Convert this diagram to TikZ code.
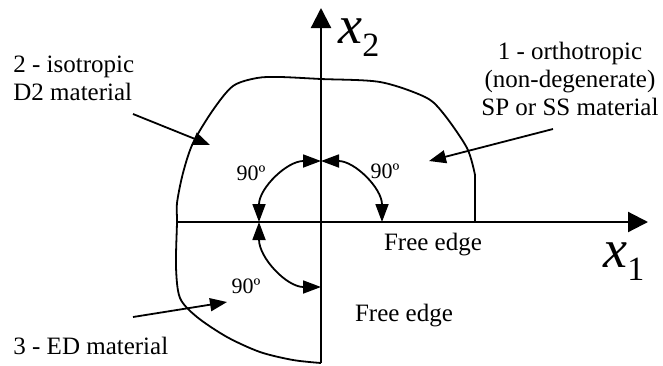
\documentclass[tikz,border=0pt]{standalone}
\usepackage{fontspec}
\setmainfont{Liberation Serif}
\usetikzlibrary{arrows.meta}
\tikzset{
  axis/.style={-{Triangle[length=10pt, width=10pt]}, line width=1.1pt},
  boundary/.style={line width=0.9pt, line join=round},
  pointer/.style={-{Triangle[length=8.5pt, width=6.5pt]}, line width=0.9pt},
  angarrow/.style={{Triangle[length=9pt, width=6.5pt]}-{Triangle[length=9pt, width=6.5pt]},
    line width=0.9pt},
  matlabel/.style={font=\fontsize{12.5}{14}\selectfont, inner sep=0pt},
  anglabel/.style={font=\fontsize{11}{13}\selectfont, inner sep=0pt},
  axlabel/.style={inner sep=0pt}
}
\newcommand{\axislabel}[2]{{\fontsize{27}{30}\selectfont\itshape #1}%
  \raisebox{-6.5pt}{\fontsize{17}{17}\selectfont #2}}

\begin{document}
\begin{tikzpicture}[x=0.5pt, y=-0.5pt]
  \useasboundingbox (0,0) rectangle (663,365);
  \coordinate (O) at (321,222);
  \coordinate (x1start) at (177,222);
  \coordinate (x1tip) at (648,222);
  \coordinate (x2start) at (321,363);
  \coordinate (x2tip) at (321,8);

  \draw[boundary] (475,222) -- (475,175) -- plot[smooth, tension=0.5] coordinates {
    (475,175) (467,148) (443,113) (425,97) (380,82) (321,79) (280,77)
    (257,78) (233,86) (213,110) (193,143) (183,173) (177,203) (177,222)
    (176,267) (180,298) (197,317) (227,337) (260,352) (293,360) (321,363)};

  \draw[axis] (x1start) -- (x1tip);
  \draw[axis] (x2start) -- (x2tip);

  \node[axlabel, anchor=base west] (x2lab) at (338,43) {\axislabel{x}{2}};
  \node[axlabel, anchor=base west] (x1lab) at (603,267) {\axislabel{x}{1}};

  \coordinate (a90top) at (321,161);
  \coordinate (a90left) at (259,222);
  \coordinate (a90right) at (382,222);
  \coordinate (a90bot) at (321,287);
  \draw[angarrow] (a90top) arc[start angle=-90, end angle=0, radius=61];
  \draw[angarrow] (a90left) arc[start angle=180, end angle=270, x radius=62, y radius=61];
  \draw[angarrow] (a90left) arc[start angle=180, end angle=90, x radius=62, y radius=65];

  \node[anglabel, anchor=base] (ang1) at (251,180) {90º};
  \node[anglabel, anchor=base] (ang2) at (385,178) {90º};
  \node[anglabel, anchor=base] (ang3) at (246,293) {90º};

  \node[matlabel, anchor=base] (edge1) at (433,250) {Free edge};
  \node[matlabel, anchor=base] (edge2) at (404,321) {Free edge};

  \node[matlabel, anchor=north west, align=left] (iso) at (13,56)
    {2 - isotropic\\D2 material};
  \node[matlabel, anchor=north, align=center] (ortho) at (570,42)
    {1 - orthotropic\\(non-degenerate)\\SP or SS material};
  \node[matlabel, anchor=north west] (ed) at (13,337) {3 - ED material};

  \coordinate (isotail) at (133,114);
  \coordinate (isotip) at (210,145);
  \coordinate (orthotail) at (553,129);
  \coordinate (orthotip) at (429,161);
  \coordinate (edtail) at (133,317);
  \coordinate (edtip) at (227,302);
  \draw[pointer] (isotail) -- (isotip);
  \draw[pointer] (orthotail) -- (orthotip);
  \draw[pointer] (edtail) -- (edtip);
\end{tikzpicture}
\end{document}
